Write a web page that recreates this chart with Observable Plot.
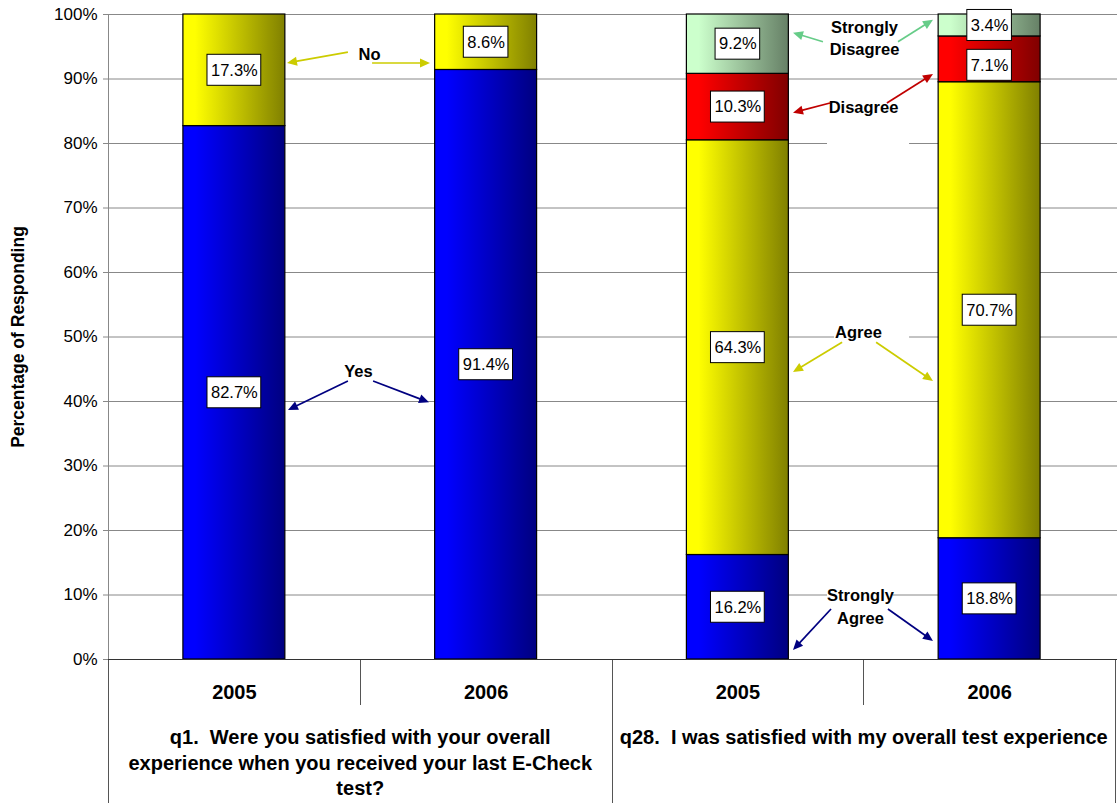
<!DOCTYPE html>
<html>
<head>
<meta charset="utf-8">
<script src="https://cdn.jsdelivr.net/npm/d3@7"></script>
<script src="https://cdn.jsdelivr.net/npm/@observablehq/plot@0.6"></script>
<style>
  html, body { margin: 0; padding: 0; background: #fff; }
  #chart svg text { white-space: pre; }
</style>
</head>
<body>
<div id="chart"></div>
<script>
// Survey responses, percent of respondents per year
const years = ["2005", "2006"];
const questions = [
  "q1.  Were you satisfied with your overall\nexperience when you received your last E-Check\ntest?",
  "q28.  I was satisfied with my overall test experience"
];
const q1Answers = ["Yes", "No"];
const q1Share2005 = [82.7, 17.3];
const q1Share2006 = [91.4, 8.6];
const q28Answers = ["Strongly Agree", "Agree", "Disagree", "Strongly Disagree"];
const q28Share2005 = [16.2, 64.3, 10.3, 9.2];
const q28Share2006 = [18.8, 70.7, 7.1, 3.4];
const yTicks = [0, 10, 20, 30, 40, 50, 60, 70, 80, 90, 100];

// Callout labels and their arrows (x in bar slots, y in percent)
const calloutText = ["No", "Yes", "Strongly\nDisagree", "Disagree", "Agree", "Strongly\nAgree"];
const calloutX = [1.037, 0.993, 3.003, 2.999, 2.979, 2.987];
const calloutY = [93.6, 44.5, 96.1, 85.4, 50.5, 7.9];
const arrowFrom = [[0.953, 94.1], [1.049, 92.4], [0.953, 43.1], [1.053, 43.1],
                   [2.840, 95.7], [3.138, 95.7], [2.868, 86.2], [3.094, 86.2],
                   [2.916, 49.1], [3.051, 49.1], [2.872, 7.75], [3.098, 7.75]];
const arrowTo   = [[0.711, 92.4], [1.279, 92.4], [0.715, 38.6], [1.275, 39.8],
                   [2.721, 97.1], [3.277, 99.1], [2.721, 84.7], [3.277, 90.7],
                   [2.721, 44.5], [3.277, 43.1], [2.721, 1.4], [3.277, 2.8]];
const arrowAnswer = ["No", "No", "Yes", "Yes", "Strongly Disagree", "Strongly Disagree",
                     "Disagree", "Disagree", "Agree", "Agree", "Strongly Agree", "Strongly Agree"];
// white panels behind three callouts that interrupt the gridlines
const panelX = [[2.884, 3.182], [2.856, 3.182], [2.856, 3.118]];
const panelY = [[48.6, 52.2], [79.5, 87.4], [4.5, 11.3]];

const gradientStops = {
  "Yes": ["#0000ff", "#000080"],
  "Strongly Agree": ["#0000ff", "#000080"],
  "No": ["#ffff00", "#808000"],
  "Agree": ["#ffff00", "#808000"],
  "Disagree": ["#ff0000", "#800000"],
  "Strongly Disagree": ["#ccffcc", "#668066"]
};
const arrowColor = {
  "Yes": "#000080", "Strongly Agree": "#000080",
  "No": "#cccc00", "Agree": "#cccc00",
  "Disagree": "#c00000", "Strongly Disagree": "#66cc88"
};
const gradId = a => "grad-" + a.replace(/\s+/g, "-").toLowerCase();

// Build stacked segments, one bar per question × year slot
const bars = [
  {answers: q1Answers, shares: q1Share2005},
  {answers: q1Answers, shares: q1Share2006},
  {answers: q28Answers, shares: q28Share2005},
  {answers: q28Answers, shares: q28Share2006}
];
const halfBar = 0.2025;
const segments = bars.flatMap((b, slot) => {
  let base = 0;
  return b.answers.map((answer, i) => {
    const share = b.shares[i];
    const seg = {slot, answer, share, y1: base, y2: base + share, mid: base + share / 2,
                 label: d3.format(".1f")(share) + "%"};
    base += share;
    return seg;
  });
});
// the small 2006 Disagree label sits a little lower to clear the one above it
const labelShift = d => (d.slot === 3 && d.answer === "Disagree") ? 6 : 0;

const font = "'Liberation Sans', Arial, Helvetica, sans-serif";
const valueFont = 16.5;
const charW = {"0":.556,"1":.556,"2":.556,"3":.556,"4":.556,"5":.556,"6":.556,"7":.556,"8":.556,"9":.556,".":.278,"%":.889};
const textWidth = s => Array.from(s).reduce((w, c) => w + (charW[c] ?? .556), 0) * valueFont;

function gradients() {
  const defs = d3.create("svg:defs");
  for (const [answer, [c0, c1]] of Object.entries(gradientStops)) {
    const lg = defs.append("linearGradient").attr("id", gradId(answer))
      .attr("x1", 0).attr("x2", 1).attr("y1", 0).attr("y2", 0);
    lg.append("stop").attr("offset", 0).attr("stop-color", c0);
    lg.append("stop").attr("offset", 0.12).attr("stop-color", c0);
    lg.append("stop").attr("offset", 1).attr("stop-color", c1);
  }
  return defs.node();
}

function valueBoxes(index, scales) {
  const g = d3.create("svg:g");
  for (const d of segments) {
    const cx = scales.x(d.slot + 0.5);
    const cy = scales.y(d.mid) + labelShift(d);
    const w = textWidth(d.label) + 7, h = 31;
    g.append("rect").attr("x", cx - w / 2).attr("y", cy - h / 2)
      .attr("width", w).attr("height", h)
      .attr("fill", "white").attr("stroke", "black").attr("stroke-width", 1);
  }
  return g.node();
}

function categoryFrame(index, scales, values, dims) {
  const g = d3.create("svg:g").attr("stroke", "#555").attr("stroke-width", 1);
  const bottom = dims.height - dims.marginBottom;
  const slots = years.length * questions.length;
  for (let s = 0; s <= slots; s++) {
    const x = Math.round(scales.x(s)) + 0.5;
    const groupEdge = s % years.length === 0;
    g.append("line").attr("x1", x).attr("x2", x)
      .attr("y1", bottom).attr("y2", groupEdge ? dims.height : bottom + 46);
  }
  g.append("line").attr("x1", dims.marginLeft - 5).attr("x2", dims.width)
    .attr("y1", bottom + 0.5).attr("y2", bottom + 0.5).attr("stroke", "#333");
  return g.node();
}

function arrows(index, scales) {
  const g = d3.create("svg:g");
  arrowFrom.forEach((from, i) => {
    const color = arrowColor[arrowAnswer[i]];
    const x1 = scales.x(from[0]), y1 = scales.y(from[1]);
    const x2 = scales.x(arrowTo[i][0]), y2 = scales.y(arrowTo[i][1]);
    const len = Math.hypot(x2 - x1, y2 - y1), ux = (x2 - x1) / len, uy = (y2 - y1) / len;
    const L = 10, W = 4.5, bx = x2 - ux * L, by = y2 - uy * L;
    g.append("line").attr("x1", x1).attr("y1", y1).attr("x2", bx + ux).attr("y2", by + uy)
      .attr("stroke", color).attr("stroke-width", 1.7);
    g.append("path")
      .attr("d", `M${x2},${y2}L${bx - uy * W},${by + ux * W}L${bx + uy * W},${by - ux * W}Z`)
      .attr("fill", color);
  });
  return g.node();
}

const callouts = calloutText.map((text, i) => ({text, x: calloutX[i], y: calloutY[i]}));
const panels = panelX.map((px, i) => ({x1: px[0], x2: px[1], y1: panelY[i][0], y2: panelY[i][1]}));
const yearLabels = d3.range(years.length * questions.length).map(s => ({slot: s, year: years[s % years.length]}));
const questionLabels = questions.map((q, i) => ({x: i * years.length + years.length / 2, q}));

const chart = Plot.plot({
  width: 1117,
  height: 803,
  marginTop: 14,
  marginBottom: 144,
  marginLeft: 108,
  marginRight: 2,
  style: {fontFamily: font, fontSize: "17px", background: "white", color: "black", overflow: "visible"},
  x: {domain: [0, 4], axis: null},
  y: {domain: [0, 100], axis: null},
  color: {type: "identity"},
  marks: [
    gradients,
    Plot.ruleY(yTicks, {stroke: "#888", strokeOpacity: 1, insetRight: -2}),
    Plot.rect(panels, {x1: "x1", x2: "x2", y1: "y1", y2: "y2", fill: "white"}),
    Plot.ruleX([0], {stroke: "#888"}),
    Plot.rect(segments, {
      x1: d => d.slot + 0.5 - halfBar,
      x2: d => d.slot + 0.5 + halfBar,
      y1: "y1", y2: "y2",
      fill: d => `url(#${gradId(d.answer)})`,
      stroke: "black", strokeWidth: 1.2
    }),
    valueBoxes,
    Plot.text(segments.filter(d => !labelShift(d)), {
      x: d => d.slot + 0.5, y: "mid", text: "label", fontSize: valueFont, fill: "black"
    }),
    Plot.text(segments.filter(d => labelShift(d)), {
      x: d => d.slot + 0.5, y: "mid", text: "label", fontSize: valueFont, fill: "black", dy: 6
    }),
    categoryFrame,
    arrows,
    Plot.text(callouts, {
      x: "x", y: "y", text: "text", fontSize: 16.5, fontWeight: "bold", lineHeight: 1.38,
      fill: "black", dy: -3
    }),
    Plot.axisY({
      ticks: yTicks, tickFormat: d => d + "%", tickSize: 5, tickPadding: 6,
      fontSize: 17, stroke: "#888", label: null
    }),
    Plot.text(["Percentage of Responding"], {
      frameAnchor: "left", dx: -90, rotate: -90, text: d => d, textAnchor: "middle",
      fontSize: 17.5, fontWeight: "bold", fill: "black"
    }),
    Plot.text(yearLabels, {
      x: d => d.slot + 0.5, frameAnchor: "bottom", dy: 39, text: "year",
      fontSize: 20, fontWeight: "bold", fill: "black"
    }),
    Plot.text(questionLabels, {
      x: "x", frameAnchor: "bottom", dy: 67, lineAnchor: "top", text: "q",
      fontSize: 20, fontWeight: "bold", lineHeight: 1.26, fill: "black"
    })
  ]
});
document.getElementById("chart").appendChild(chart);
</script>
</body>
</html>
